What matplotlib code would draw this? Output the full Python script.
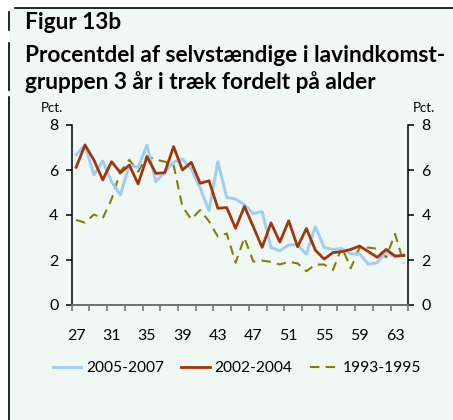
import matplotlib
matplotlib.use("Agg")
import matplotlib.pyplot as plt
from matplotlib.lines import Line2D
from matplotlib.patches import Rectangle

ages = list(range(27, 65))
s_2005_2007 = [6.67, 7.12, 5.78, 6.40, 5.48, 4.89, 6.22, 6.12, 7.11, 5.48,
               5.90, 6.35, 6.48, 6.05, 5.20, 4.20, 6.37, 4.78, 4.71, 4.46,
               4.06, 4.15, 2.56, 2.41, 2.67, 2.68, 2.26, 3.48, 2.56, 2.47,
               2.51, 2.27, 2.27, 1.81, 1.88, 2.37, 2.12, 2.25]
s_2002_2004 = [6.12, 7.11, 6.45, 5.56, 6.37, 5.88, 6.22, 5.38, 6.59, 5.85,
               5.88, 7.04, 6.00, 6.34, 5.41, 5.52, 4.30, 4.33, 3.41, 4.38,
               3.48, 2.56, 3.65, 2.80, 3.74, 2.59, 3.40, 2.44, 2.04, 2.33,
               2.37, 2.47, 2.62, 2.37, 2.12, 2.47, 2.18, 2.20]
s_1993_1995 = [3.78, 3.66, 4.02, 3.85, 4.70, 5.93, 6.45, 5.93, 6.62, 6.46,
               6.37, 6.22, 4.37, 3.81, 4.22, 3.72, 3.04, 3.18, 1.88, 2.99,
               1.93, 1.97, 1.92, 1.80, 1.92, 1.85, 1.50, 1.80, 1.80, 1.56,
               2.57, 1.63, 2.55, 2.55, 2.50, 2.12, 3.16, 1.85]
series_labels = ["2005-2007", "2002-2004", "1993-1995"]
xtick_labels = [27, 31, 35, 39, 43, 47, 51, 55, 59, 63]
ytick_values = [0, 2, 4, 6, 8]
title_lines = ["Figur 13b",
               "Procentdel af selvstændige i lavindkomst-",
               "gruppen 3 år i træk fordelt på alder"]

W, H = 453, 420
DPI = 100
BG = "#F0F8F5"
C_BLUE = "#9DCDF8"
C_RED = "#A3350C"
C_OLIVE = "#808000"
FONT = ["Lato", "DejaVu Sans"]
TFONT = ["Liberation Sans Narrow", "Lato", "DejaVu Sans"]

fig = plt.figure(figsize=(W / DPI, H / DPI), dpi=DPI, facecolor="white")


def fx(x):
    return x / W


def fy(y):
    return 1 - y / H


# panel background + frame lines
fig.patches.append(Rectangle((fx(9), 0), 1 - fx(9), fy(8), transform=fig.transFigure,
                             facecolor=BG, edgecolor="none", zorder=-10))
fig.add_artist(Line2D([fx(15), 1], [fy(8), fy(8)], color="black", lw=1.2,
                      transform=fig.transFigure))
for y0, y1 in [(12, 30), (43, 90), (97, 420)]:
    fig.add_artist(Line2D([fx(9), fx(9)], [fy(y0), fy(y1)], color="black", lw=1.2,
                          transform=fig.transFigure))

# title with width fitting
renderer = fig.canvas.get_renderer()
baselines = [29, 62, 89]
t2 = fig.text(fx(25), fy(baselines[1]), title_lines[1], family=TFONT, weight="bold",
              fontsize=16, va="baseline", ha="left")
w = t2.get_window_extent(renderer).width
fs = 16 * 422.0 / w
t2.set_fontsize(fs)
for i in (0, 2):
    fig.text(fx(25), fy(baselines[i]), title_lines[i], family=TFONT, weight="bold",
             fontsize=fs, va="baseline", ha="left")

# axes
ax = fig.add_axes([fx(71.7), fy(305), fx(408.3) - fx(71.7), fy(125) - fy(305)])
ax.set_facecolor(BG)
ax.plot(ages, s_2005_2007, color=C_BLUE, lw=2.1, label=series_labels[0], zorder=3)
ax.plot(ages, s_2002_2004, color=C_RED, lw=2.0, label=series_labels[1], zorder=4)
ax.plot(ages, s_1993_1995, color=C_OLIVE, lw=1.5, ls=(0, (4.5, 3)), label=series_labels[2], zorder=2)

ax.set_xlim(26.5, 64.5)
ax.set_ylim(0, 8)
ax.spines["top"].set_visible(False)
for sp in ("left", "right"):
    ax.spines[sp].set_color("black")
    ax.spines[sp].set_linewidth(1.1)
ax.spines["bottom"].set_color("#6E6E6E")
ax.spines["bottom"].set_linewidth(1.4)

major_x = [26.5 + 2 * k for k in range(20)]
ax.set_xticks(major_x)
ax.set_xticklabels([])
ax.set_xticks(xtick_labels, minor=True)
ax.set_xticklabels([str(v) for v in xtick_labels], minor=True, family=FONT, fontsize=11.5)
ax.tick_params(axis="x", which="major", direction="out", length=4.5, width=1.1, color="#6E6E6E")
ax.tick_params(axis="x", which="minor", length=0, pad=17)

ax.set_yticks(ytick_values)
ax.set_yticklabels([str(v) for v in ytick_values], family=FONT, fontsize=11.5)
ax.tick_params(axis="y", which="both", direction="out", length=4.5, width=1.1,
               color="black", left=True, right=True, labelleft=True, labelright=True, pad=5)
for lab in ax.get_yticklabels(which="both"):
    lab.set_family(FONT)

fig.text(fx(52), fy(108), "Pct.", family=FONT, fontsize=9.5, ha="center", va="center")
fig.text(fx(424), fy(108), "Pct.", family=FONT, fontsize=9.5, ha="center", va="center")

leg = fig.legend(loc="center", bbox_to_anchor=(fx(237), fy(368)), ncol=3, frameon=False,
                 prop={"family": FONT, "size": 11.2}, handlelength=1.85, handletextpad=0.3,
                 columnspacing=1.1, borderpad=0)

fig.savefig("out.png", dpi=DPI, facecolor="white")
